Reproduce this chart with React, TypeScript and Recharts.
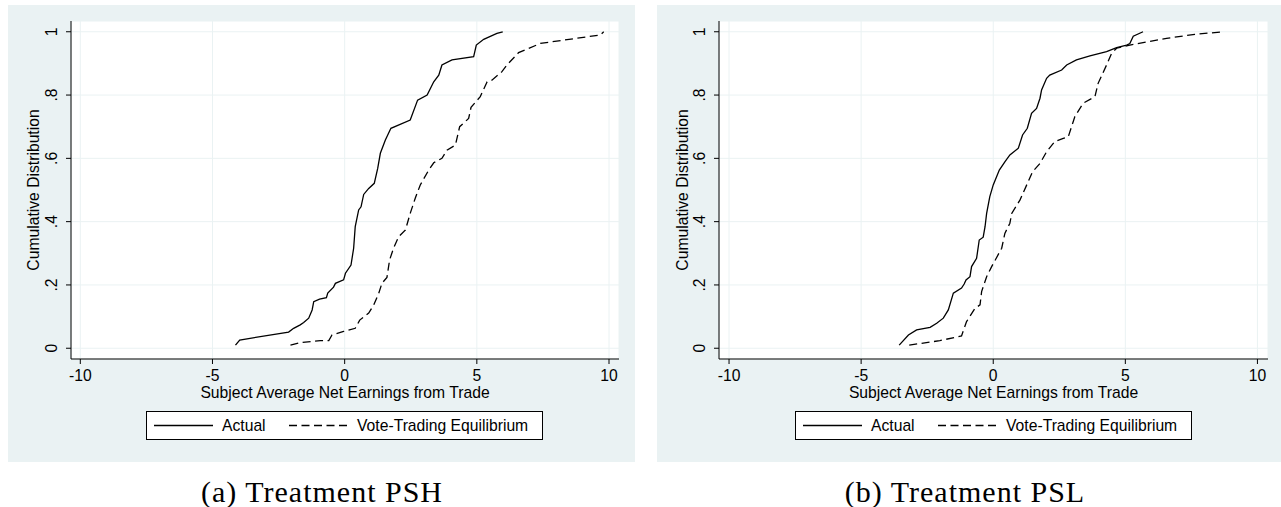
import { LineChart, Line, XAxis, YAxis, CartesianGrid } from "recharts";

const xTicks = [-10, -5, 0, 5, 10];
const yTicks = [0, 0.2, 0.4, 0.6, 0.8, 1];

// Treatment PSH
const actualPshX = [-4.13, -3.97, -2.12, -1.93, -1.68, -1.55, -1.36, -1.23, -1.17, -0.95, -0.69, -0.64, -0.42, -0.35, -0.04, 0.03, 0.24, 0.34, 0.4, 0.53, 0.62, 0.72, 0.91, 1.12, 1.25, 1.35, 1.54, 1.75, 2.48, 2.76, 3.12, 3.37, 3.56, 3.68, 4.06, 4.88, 4.98, 5.26, 5.76, 5.98];
const actualPshY = [0.01, 0.026, 0.051, 0.063, 0.074, 0.081, 0.095, 0.121, 0.147, 0.155, 0.16, 0.174, 0.193, 0.205, 0.216, 0.237, 0.263, 0.316, 0.384, 0.437, 0.447, 0.486, 0.505, 0.521, 0.568, 0.616, 0.658, 0.695, 0.721, 0.784, 0.8, 0.842, 0.863, 0.895, 0.911, 0.921, 0.958, 0.976, 0.995, 1.0];
const votePshX = [-2.05, -1.68, -0.92, -0.6, -0.48, -0.04, 0.4, 0.57, 0.91, 1.1, 1.29, 1.41, 1.6, 1.7, 1.85, 2.04, 2.3, 2.48, 2.67, 2.86, 3.18, 3.37, 3.68, 3.87, 4.19, 4.35, 4.69, 4.78, 5.13, 5.39, 5.57, 5.95, 6.14, 6.58, 7.4, 9.67, 9.8];
const votePshY = [0.01, 0.018, 0.024, 0.024, 0.042, 0.053, 0.063, 0.089, 0.111, 0.137, 0.174, 0.205, 0.224, 0.279, 0.316, 0.352, 0.374, 0.426, 0.474, 0.516, 0.563, 0.586, 0.6, 0.626, 0.642, 0.7, 0.726, 0.761, 0.795, 0.842, 0.847, 0.874, 0.895, 0.934, 0.963, 0.99, 1.0];

// Treatment PSL
const actualPslX = [-3.56, -3.21, -2.9, -2.39, -2.14, -1.89, -1.7, -1.51, -1.2, -1.1, -1.03, -0.88, -0.82, -0.63, -0.53, -0.38, -0.31, -0.25, -0.13, 0.0, 0.23, 0.44, 0.63, 0.95, 1.11, 1.29, 1.45, 1.64, 1.77, 1.83, 2.02, 2.14, 2.59, 2.78, 3.15, 3.66, 4.29, 4.67, 5.05, 5.17, 5.3, 5.67];
const actualPslY = [0.01, 0.042, 0.058, 0.066, 0.079, 0.095, 0.121, 0.174, 0.19, 0.203, 0.216, 0.226, 0.258, 0.284, 0.342, 0.351, 0.384, 0.426, 0.479, 0.516, 0.563, 0.589, 0.611, 0.632, 0.674, 0.695, 0.742, 0.758, 0.79, 0.816, 0.853, 0.863, 0.879, 0.895, 0.911, 0.924, 0.937, 0.95, 0.958, 0.963, 0.986, 1.0];
const votePslX = [-3.18, -2.02, -1.2, -1.01, -0.69, -0.5, -0.44, -0.25, -0.06, 0.32, 0.44, 0.63, 0.7, 1.01, 1.32, 1.49, 1.77, 2.02, 2.33, 2.65, 2.84, 3.09, 3.4, 3.85, 3.97, 4.29, 4.48, 4.67, 5.17, 6.56, 7.63, 8.73];
const votePslY = [0.01, 0.024, 0.039, 0.084, 0.126, 0.137, 0.179, 0.226, 0.258, 0.316, 0.363, 0.395, 0.426, 0.468, 0.526, 0.558, 0.584, 0.621, 0.653, 0.663, 0.668, 0.732, 0.774, 0.795, 0.837, 0.895, 0.932, 0.948, 0.958, 0.979, 0.992, 1.0];

const FONT = '"Liberation Sans", Arial, sans-serif';
const SERIF = '"Liberation Serif", "Times New Roman", serif';
const BG = "#EAF2F3";
const FS = 15.7;

const toPoints = (xs: number[], ys: number[]) => xs.map((x, i) => ({ x, y: ys[i] }));

const fmtY = (v: number) => (v === 0 ? "0" : v === 1 ? "1" : String(v).replace("0.", "."));

function XTick({ x, y, payload }: any) {
  return (
    <text x={x} y={y + 11} textAnchor="middle" dominantBaseline="central" fontSize={FS} fontFamily={FONT} fill="#000">
      {payload.value}
    </text>
  );
}

function YTick({ x, y, payload }: any) {
  const cx = x - 14;
  return (
    <text x={cx} y={y} transform={`rotate(-90, ${cx}, ${y})`} textAnchor="middle" dominantBaseline="central" fontSize={FS} fontFamily={FONT} fill="#000">
      {fmtY(payload.value)}
    </text>
  );
}

function XTitle({ viewBox }: any) {
  const cx = viewBox.x + viewBox.width / 2;
  return (
    <text x={cx} y={viewBox.y + 33} textAnchor="middle" dominantBaseline="central" fontSize={FS} fontFamily={FONT} fill="#000">
      Subject Average Net Earnings from Trade
    </text>
  );
}

function YTitle({ viewBox }: any) {
  const cx = 25;
  const cy = viewBox.y + viewBox.height / 2;
  return (
    <text x={cx} y={cy} transform={`rotate(-90, ${cx}, ${cy})`} textAnchor="middle" dominantBaseline="central" fontSize={FS} fontFamily={FONT} fill="#000">
      Cumulative Distribution
    </text>
  );
}

function LegendBox() {
  return (
    <div
      style={{
        position: "absolute",
        left: 138,
        top: 406,
        width: 397,
        height: 29,
        boxSizing: "border-box",
        border: "1px solid #000",
        background: "#fff",
        fontFamily: FONT,
        fontSize: FS,
      }}
    >
      <svg width={397} height={27} style={{ position: "absolute", left: 0, top: 0 }}>
        <line x1={7} x2={66} y1={13.5} y2={13.5} stroke="#000" strokeWidth={1.3} />
        <line x1={142} x2={203} y1={13.5} y2={13.5} stroke="#000" strokeWidth={1.3} strokeDasharray="8 4.5" />
      </svg>
      <span style={{ position: "absolute", left: 75, top: 0, lineHeight: "27px" }}>Actual</span>
      <span style={{ position: "absolute", left: 210, top: 0, lineHeight: "27px", whiteSpace: "nowrap" }}>
        Vote-Trading Equilibrium
      </span>
    </div>
  );
}

interface PanelProps {
  left: number;
  width: number;
  yAxisWidth: number;
  marginRight: number;
  xDomain: [number, number];
  actual: { x: number; y: number }[];
  vote: { x: number; y: number }[];
}

function Panel({ left, width, yAxisWidth, marginRight, xDomain, actual, vote }: PanelProps) {
  return (
    <div style={{ position: "absolute", left, top: 5, width, height: 457, background: BG }}>
      <LineChart width={width} height={457} margin={{ top: 16, right: marginRight, bottom: 63, left: 0 }}>
        <CartesianGrid stroke={BG} strokeWidth={1} fill="#fff" fillOpacity={1} />
        <XAxis
          type="number"
          dataKey="x"
          domain={xDomain}
          ticks={xTicks}
          interval={0}
          allowDataOverflow
          height={40}
          axisLine={{ stroke: "#000", strokeWidth: 1 }}
          tickLine={{ stroke: "#000", strokeWidth: 1 }}
          tickSize={5}
          tickMargin={0}
          tick={<XTick />}
          label={(p: any) => <XTitle {...p} />}
        />
        <YAxis
          type="number"
          dataKey="y"
          domain={[-0.034, 1.034]}
          ticks={yTicks}
          interval={0}
          allowDataOverflow
          width={yAxisWidth}
          axisLine={{ stroke: "#000", strokeWidth: 1 }}
          tickLine={{ stroke: "#000", strokeWidth: 1 }}
          tickSize={5}
          tickMargin={0}
          tick={<YTick />}
          label={(p: any) => <YTitle {...p} />}
        />
        <Line data={actual} dataKey="y" type="linear" stroke="#000" strokeWidth={1.3} dot={false} isAnimationActive={false} />
        <Line data={vote} dataKey="y" type="linear" stroke="#000" strokeWidth={1.3} strokeDasharray="8 4.5" dot={false} isAnimationActive={false} />
      </LineChart>
      <LegendBox />
    </div>
  );
}

function Caption({ center, text }: { center: number; text: string }) {
  return (
    <div
      style={{
        position: "absolute",
        left: center - 200,
        width: 400,
        top: 476,
        textAlign: "center",
        fontFamily: SERIF,
        fontSize: 30,
        lineHeight: "32px",
        letterSpacing: 1,
        color: "#000",
      }}
    >
      {text}
    </div>
  );
}

export default function App() {
  return (
    <div style={{ position: "absolute", left: 0, top: 0, width: 1281, height: 507, background: "#fff", overflow: "hidden" }}>
      <Panel
        left={8}
        width={627}
        yAxisWidth={63}
        marginRight={16}
        xDomain={[-10.352, 10.378]}
        actual={toPoints(actualPshX, actualPshY)}
        vote={toPoints(votePshX, votePshY)}
      />
      <Panel
        left={657}
        width={624}
        yAxisWidth={62}
        marginRight={13}
        xDomain={[-10.38, 10.4]}
        actual={toPoints(actualPslX, actualPslY)}
        vote={toPoints(votePslX, votePslY)}
      />
      <Caption center={322} text="(a) Treatment PSH" />
      <Caption center={965} text="(b) Treatment PSL" />
    </div>
  );
}
